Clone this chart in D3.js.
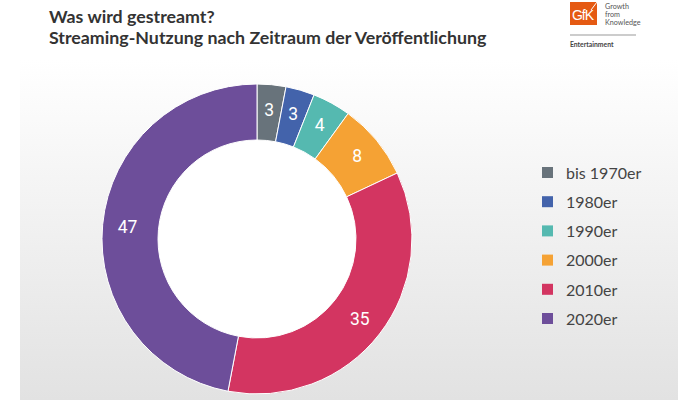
<!DOCTYPE html>
<html><head><meta charset="utf-8">
<script src="https://cdn.jsdelivr.net/npm/d3@7"></script>
<style>html,body{margin:0;padding:0;background:#fff;}svg{display:block;}</style>
</head><body>
<script>
const categories = ["bis 1970er","1980er","1990er","2000er","2010er","2020er"];
const values = [3,3,4,8,35,47];
const colors = ["#68737b","#4363ab","#55b9b0","#f5a234","#d33561","#6d4e9a"];
const titleLines = ["Was wird gestreamt?","Streaming-Nutzung nach Zeitraum der Veröffentlichung"];
const logoLines = ["Growth","from","Knowledge"];

const W=700,H=400;
const svg=d3.select("body").append("svg").attr("width",W).attr("height",H);
const defs=svg.append("defs");
const g=defs.append("linearGradient").attr("id","bg").attr("x1",0).attr("y1",0).attr("x2",0).attr("y2",1);
g.append("stop").attr("offset","0.15").attr("stop-color","#ffffff");
g.append("stop").attr("offset","1").attr("stop-color","#e2e2e2");
svg.append("rect").attr("x",20).attr("y",0).attr("width",658).attr("height",H).attr("fill","url(#bg)");

// title
svg.selectAll("text.title").data(titleLines).join("text").attr("class","title")
  .attr("x",49).attr("y",(d,i)=>23+i*21)
  .attr("font-family","Lato").attr("font-weight","bold").attr("font-size",17.8)
  .attr("fill","#333").text(d=>d);

// logo
const logo=svg.append("g");
logo.append("rect").attr("x",570).attr("y",2).attr("width",27).attr("height",23).attr("fill","#e55a13");
logo.append("text").attr("x",572).attr("y",20).attr("font-family","Liberation Sans").attr("font-size",14)
  .attr("textLength",22).attr("fill","#fff").text("GfK");
logo.append("line").attr("x1",591).attr("y1",10).attr("x2",597).attr("y2",2).attr("stroke","#fff").attr("stroke-width",1);
logo.selectAll("text.ll").data(logoLines).join("text").attr("class","ll")
  .attr("x",605).attr("y",(d,i)=>9+i*8).attr("font-family","Lato").attr("font-size",7.2).attr("fill","#555").text(d=>d);
logo.append("line").attr("x1",570).attr("y1",35).attr("x2",636).attr("y2",35).attr("stroke","#999").attr("stroke-width",1);
logo.append("text").attr("x",570).attr("y",47).attr("font-family","Lato").attr("font-weight","bold").attr("font-size",6.8).attr("fill","#444").text("Entertainment");

// donut
const cx=257, cy=239, R=155, r=99;
const pie=d3.pie().sort(null).value(d=>d)(values);
const arc=d3.arc().innerRadius(r).outerRadius(R);
const labelArc=d3.arc().innerRadius(260-R).outerRadius(R);
const dg=svg.append("g").attr("transform",`translate(${cx},${cy})`);
dg.append("circle").attr("r",r).attr("fill","#fff");
dg.selectAll("path").data(pie).join("path").attr("d",arc)
  .attr("fill",(d,i)=>colors[i]).attr("stroke","#fff").attr("stroke-width",1);
dg.selectAll("text").data(pie).join("text")
  .attr("transform",d=>`translate(${labelArc.centroid(d)})`)
  .attr("text-anchor","middle").attr("dy","0.36em")
  .attr("font-family","Roboto").attr("font-size",17.5).attr("fill","#fff").text(d=>d.data);

// legend
const ly=d3.scalePoint().domain(categories).range([173,319]);
const lg=svg.selectAll("g.leg").data(categories).join("g").attr("class","leg")
  .attr("transform",d=>`translate(542,${ly(d)})`);
lg.append("rect").attr("x",0).attr("y",-6).attr("width",11).attr("height",11).attr("fill",(d,i)=>colors[i]);
lg.append("text").attr("x",24).attr("dy","0.36em").attr("font-family","Lato").attr("font-size",16)
  .attr("fill","#444").text(d=>d);
</script>
</body></html>
